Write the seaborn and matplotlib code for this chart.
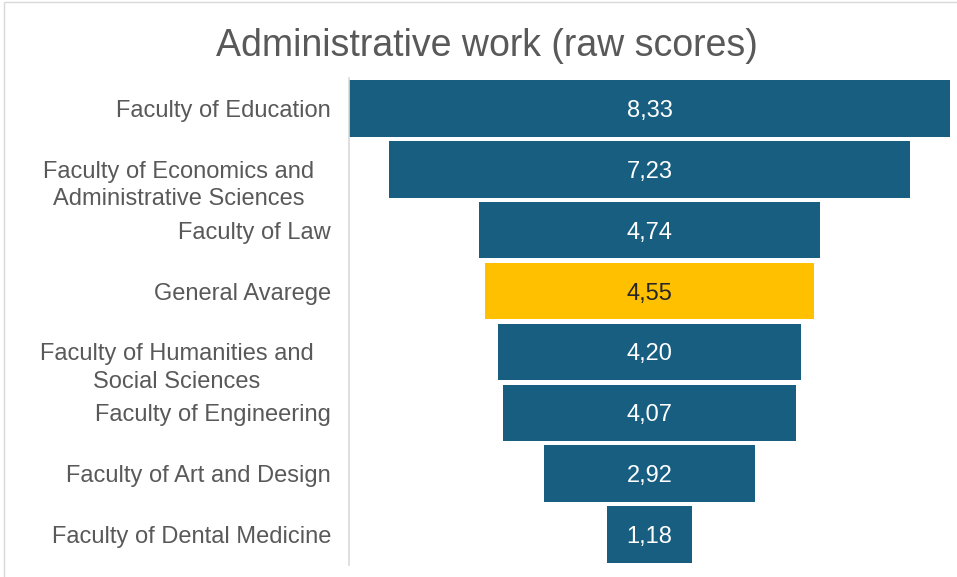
import seaborn as sns
import pandas as pd
import matplotlib.transforms as mtransforms
from matplotlib import pyplot as plt
from matplotlib.patches import Rectangle

faculties = ['Faculty of Education',
             'Faculty of Economics and\nAdministrative Sciences',
             'Faculty of Law',
             'General Avarege',
             'Faculty of Humanities and\nSocial Sciences',
             'Faculty of Engineering',
             'Faculty of Art and Design',
             'Faculty of Dental Medicine']
scores = [8.33, 7.23, 4.74, 4.55, 4.20, 4.07, 2.92, 1.18]
score_labels = ['8,33', '7,23', '4,74', '4,55', '4,20', '4,07', '2,92', '1,18']

blue = '#175e80'
yellow = '#ffc000'
grey_txt = '#595959'

df = pd.DataFrame({'faculty': faculties, 'score': scores})
df['half'] = df['score'] / 2
df['neg_half'] = -df['half']
bar_colors = [yellow if f == 'General Avarege' else blue for f in faculties]
palette = dict(zip(faculties, bar_colors))

sns.set_style('white')
plt.rcParams['font.family'] = ['Liberation Sans', 'DejaVu Sans']

fig = plt.figure(figsize=(9.57, 5.77), dpi=100)
ax = fig.add_axes([349 / 957, 1 - 565 / 577, 601 / 957, 487 / 577])

# funnel: two half bars mirrored around zero
for col in ['half', 'neg_half']:
    sns.barplot(data=df, x=col, y='faculty', hue='faculty', palette=palette,
                orient='h', width=0.93, linewidth=0, saturation=1,
                legend=False, ax=ax)

for i, (txt, f) in enumerate(zip(score_labels, faculties)):
    c = '#262626' if f == 'General Avarege' else 'white'
    ax.text(0, i, txt, ha='center', va='center_baseline', fontsize=17, color=c)

ax.set_xlim(-4.165, 4.165)
ax.set_ylim(7.5, -0.5)
ax.set_xlabel('')
ax.set_ylabel('')
ax.set_xticks([])
ax.tick_params(axis='y', length=0, pad=13, labelsize=17, labelcolor=grey_txt)

for lab in ax.get_yticklabels():
    if '\n' in lab.get_text():
        lab.set_multialignment('center')
        lab.set_linespacing(1.3)
        off = mtransforms.ScaledTranslation(-0.17, -0.11, fig.dpi_scale_trans)
        lab.set_transform(lab.get_transform() + off)

for s in ['top', 'right', 'bottom']:
    ax.spines[s].set_visible(False)
ax.spines['left'].set_color('#d9d9d9')
ax.spines['left'].set_linewidth(1.2)

fig.text(487 / 957, 1 - 46 / 577, 'Administrative work (raw scores)',
         ha='center', va='center', fontsize=27, color=grey_txt)

fig.add_artist(Rectangle((4 / 957, -0.05), 1.1, 1.05 - 2 / 577,
                         transform=fig.transFigure, fill=False,
                         edgecolor='#d9d9d9', linewidth=1))

fig.savefig('out.png', dpi=100)
